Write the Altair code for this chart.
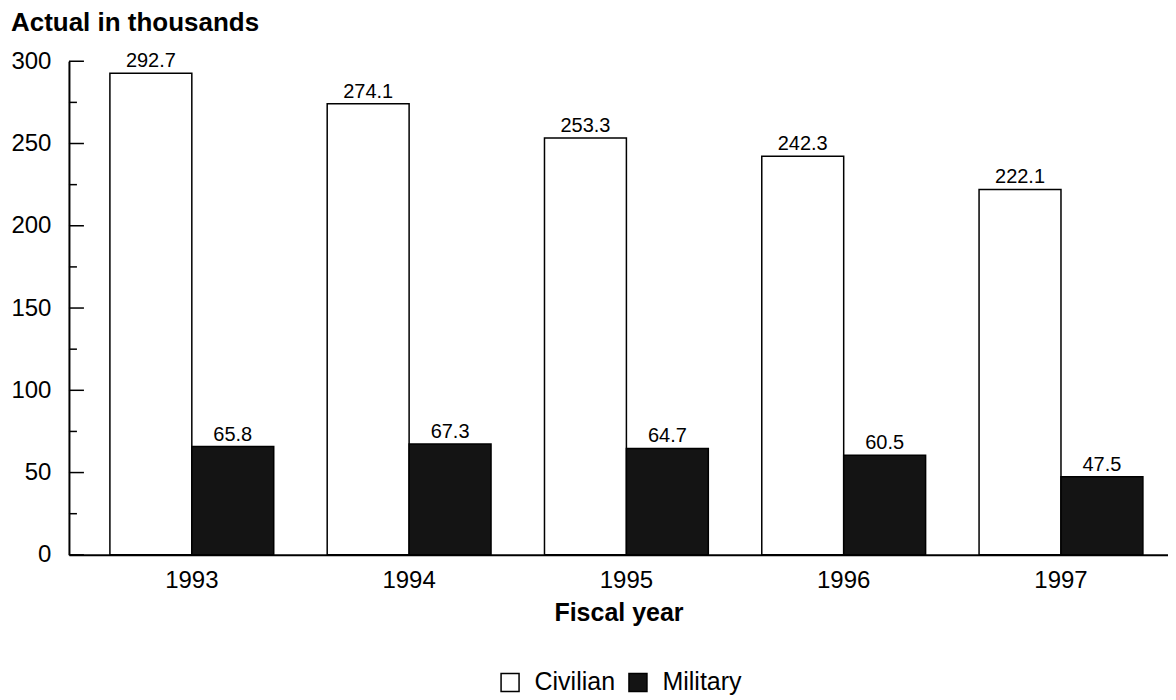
import altair as alt
import pandas as pd

years = ["1993", "1994", "1995", "1996", "1997"]
civilian = [292.7, 274.1, 253.3, 242.3, 222.1]
military = [65.8, 67.3, 64.7, 60.5, 47.5]
series = ["Civilian", "Military"]
major_ticks = [0, 50, 100, 150, 200, 250, 300]
minor_ticks = [25, 75, 125, 175, 225, 275]

rows = []
for yr, c, m in zip(years, civilian, military):
    rows.append({"year": yr, "series": "Civilian", "value": c, "label": f"{c:.1f}"})
    rows.append({"year": yr, "series": "Military", "value": m, "label": f"{m:.1f}"})
df = pd.DataFrame(rows)

FONT = "Liberation Sans"

x = alt.X("year:N", sort=years, title="Fiscal year",
          scale=alt.Scale(paddingInner=0.246, paddingOuter=0.152, align=0.62))
y = alt.Y("value:Q", scale=alt.Scale(domain=[0, 300], nice=False), title=None,
          axis=alt.Axis(values=major_ticks))
color = alt.Color(
    "series:N",
    scale=alt.Scale(domain=series, range=["white", "#141414"]),
    legend=alt.Legend(title=None, orient="none", legendX=429, legendY=609,
                      direction="horizontal", symbolType="square", symbolSize=324,
                      symbolStrokeColor="black", symbolStrokeWidth=1.5,
                      labelFontSize=25, labelColor="black", labelFont=FONT,
                      columnPadding=10, labelOffset=12, symbolOpacity=1),
)
xoff = alt.XOffset("series:N", sort=series)

bars = alt.Chart(df).mark_bar(stroke="black", strokeWidth=1.5).encode(
    x=x, y=y, color=color, xOffset=xoff)

labels = alt.Chart(df).mark_text(baseline="bottom", dy=-2, fontSize=20,
                                 color="black", font=FONT).encode(
    x=x, y=alt.Y("value:Q", title=None), xOffset=xoff, text="label:N")

major = alt.Chart(pd.DataFrame({"t": major_ticks})).mark_rule(
    color="black", strokeWidth=1.5).encode(
    y=alt.Y("t:Q", title=None), x=alt.value(0), x2=alt.value(15))

minor = alt.Chart(pd.DataFrame({"t": minor_ticks})).mark_rule(
    color="black", strokeWidth=1.5).encode(
    y=alt.Y("t:Q", title=None), x=alt.value(0), x2=alt.value(8))

chart = alt.layer(bars, labels, major, minor).properties(
    width=1100, height=494,
    padding={"left": 2, "top": 2, "right": 0, "bottom": 0},
    title=alt.TitleParams("Actual in thousands", anchor="start", frame="bounds",
                          fontSize=26, fontWeight="bold", font=FONT,
                          color="black", offset=13),
).configure_view(stroke=None).configure_axis(
    grid=False, ticks=False, domainColor="black", domainWidth=2,
    labelColor="black", titleColor="black", labelFont=FONT, titleFont=FONT,
).configure_axisX(
    labelAngle=0, labelFontSize=24, labelPadding=14, titleFontSize=25,
    titleFontWeight="bold", titlePadding=8,
).configure_axisY(
    labelFontSize=24, labelPadding=18,
)

chart.save("out.html", embed_options={"renderer": "svg", "actions": False})
